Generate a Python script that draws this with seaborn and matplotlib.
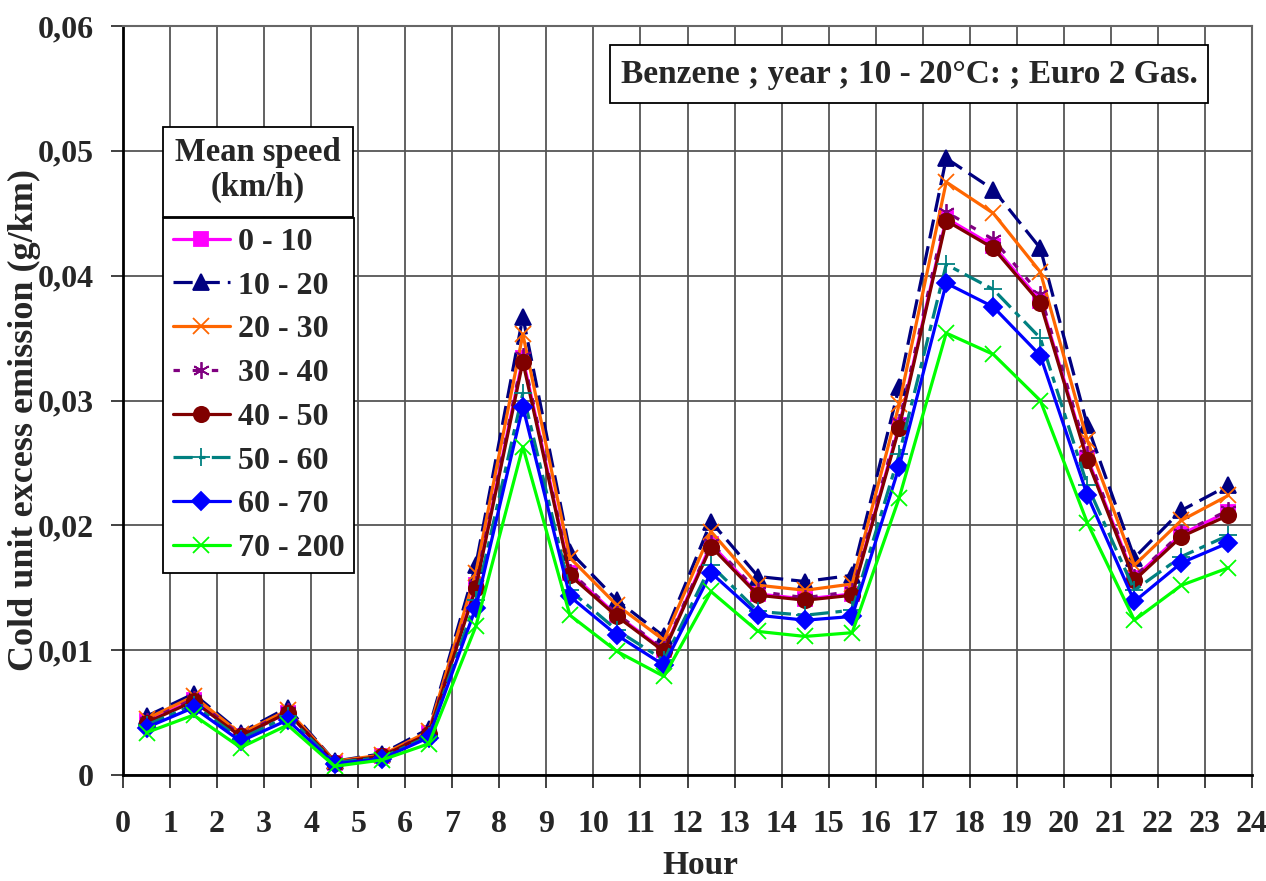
import numpy as np
import pandas as pd
import matplotlib
matplotlib.use("Agg")
import matplotlib.pyplot as plt
import seaborn as sns
from matplotlib.ticker import FuncFormatter, MultipleLocator
from matplotlib.patches import Rectangle

hours = [h + 0.5 for h in range(24)]

s0_10 = [0.0043, 0.0060, 0.0031, 0.0050, 0.0010, 0.0015, 0.0034, 0.0152, 0.0334, 0.0162, 0.0128, 0.0100,
         0.0185, 0.0145, 0.0141, 0.0145, 0.0280, 0.0446, 0.0424, 0.0380, 0.0254, 0.0158, 0.0193, 0.0211]
s10_20 = [0.0047, 0.0065, 0.0034, 0.0054, 0.0011, 0.0017, 0.0037, 0.0168, 0.0367, 0.0179, 0.0140, 0.0111,
          0.0203, 0.0159, 0.0155, 0.0160, 0.0311, 0.0494, 0.0469, 0.0422, 0.0280, 0.0174, 0.0212, 0.0232]
s20_30 = [0.0045, 0.0063, 0.0033, 0.0052, 0.0011, 0.0016, 0.0035, 0.0162, 0.0353, 0.0174, 0.0136, 0.0108,
          0.0195, 0.0152, 0.0148, 0.0153, 0.0297, 0.0475, 0.0450, 0.0403, 0.0268, 0.0168, 0.0204, 0.0224]
s30_40 = [0.0043, 0.0061, 0.0032, 0.0051, 0.0010, 0.0015, 0.0034, 0.0153, 0.0336, 0.0163, 0.0129, 0.0101,
          0.0186, 0.0147, 0.0142, 0.0147, 0.0283, 0.0451, 0.0429, 0.0385, 0.0257, 0.0159, 0.0194, 0.0212]
s40_50 = [0.0042, 0.0059, 0.0031, 0.0050, 0.0010, 0.0015, 0.0033, 0.0150, 0.0331, 0.0160, 0.0127, 0.0099,
          0.0183, 0.0144, 0.0140, 0.0144, 0.0278, 0.0444, 0.0422, 0.0378, 0.0252, 0.0156, 0.0191, 0.0208]
s50_60 = [0.0040, 0.0056, 0.0029, 0.0047, 0.0010, 0.0014, 0.0031, 0.0140, 0.0306, 0.0148, 0.0116, 0.0092,
          0.0168, 0.0131, 0.0128, 0.0132, 0.0257, 0.0409, 0.0389, 0.0350, 0.0232, 0.0148, 0.0175, 0.0192]
s60_70 = [0.0038, 0.0054, 0.0027, 0.0044, 0.0009, 0.0013, 0.0030, 0.0134, 0.0295, 0.0143, 0.0112, 0.0088,
          0.0162, 0.0128, 0.0124, 0.0127, 0.0247, 0.0394, 0.0375, 0.0336, 0.0224, 0.0139, 0.0170, 0.0186]
s70_200 = [0.0034, 0.0048, 0.0022, 0.0040, 0.0007, 0.0012, 0.0025, 0.0119, 0.0263, 0.0128, 0.0099, 0.0079,
           0.0147, 0.0115, 0.0111, 0.0114, 0.0222, 0.0354, 0.0337, 0.0300, 0.0202, 0.0124, 0.0152, 0.0166]

labels = ["0 - 10", "10 - 20", "20 - 30", "30 - 40", "40 - 50", "50 - 60", "60 - 70", "70 - 200"]
series = [s0_10, s10_20, s20_30, s30_40, s40_50, s50_60, s60_70, s70_200]

styles = [
    dict(color="#FF00FF", marker="s", ms=10, ls="-", mfc="#FF00FF", mec="#FF00FF"),
    dict(color="#000080", marker="^", ms=12, ls=(0, (6, 2.5)), mfc="#000080", mec="#000080"),
    dict(color="#FF6600", marker="x", ms=12, ls="-", mfc="none", mec="#FF6600"),
    dict(color="#800080", marker=(6, 2, 0), ms=12, ls=(0, (2, 4)), mfc="none", mec="#800080"),
    dict(color="#800000", marker="o", ms=11, ls="-", mfc="#800000", mec="#800000"),
    dict(color="#008080", marker="+", ms=13, ls=(0, (6, 2, 2, 2)), mfc="none", mec="#008080"),
    dict(color="#0000FF", marker="D", ms=9, ls="-", mfc="#0000FF", mec="#0000FF"),
    dict(color="#00FF00", marker="x", ms=12, ls="-", mfc="none", mec="#00FF00"),
]

sns.set_theme(style="white")
plt.rcParams["font.family"] = ["Liberation Serif", "DejaVu Serif"]
plt.rcParams["font.weight"] = "bold"

W, H = 1266, 881
fig = plt.figure(figsize=(W / 100, H / 100), dpi=100)
ax = fig.add_axes([123 / W, 1 - 775 / H, (1252 - 123) / W, (775 - 26) / H])

for lab, vals, st in zip(labels, series, styles):
    df = pd.DataFrame({"Hour": hours, "val": vals})
    sns.lineplot(data=df, x="Hour", y="val", ax=ax, label=lab,
                 color=st["color"], marker=st["marker"], markersize=st["ms"],
                 linestyle=st["ls"], linewidth=2.3,
                 markerfacecolor=st["mfc"], markeredgecolor=st["mec"],
                 markeredgewidth=1.3, legend=False)

ax.set_xlim(0, 24)
ax.set_ylim(0, 0.06)
ax.xaxis.set_major_locator(MultipleLocator(1))
ax.yaxis.set_major_locator(MultipleLocator(0.01))
ax.yaxis.set_major_formatter(FuncFormatter(lambda v, p: "0" if abs(v) < 1e-9 else f"{v:.2f}".replace(".", ",")))
ax.grid(True, color="#555555", linewidth=1.3)
for sp in ax.spines.values():
    sp.set_color("#666666")
    sp.set_linewidth(1.5)
for side in ("bottom", "left"):
    ax.spines[side].set_color("black")
    ax.spines[side].set_linewidth(2)
ax.tick_params(axis="both", which="major", direction="out", length=9, width=1.3,
               color="#333333", labelsize=23)
ax.tick_params(axis="x", bottom=True, pad=16)
ax.tick_params(axis="y", left=True, pad=12)
for t in ax.get_xticklabels() + ax.get_yticklabels():
    t.set_fontweight("bold")

xl = ax.set_xlabel("Hour", fontsize=24, fontweight="bold")
xl.set_va("center")
ax.xaxis.set_label_coords((700 - 123) / 1129, (775 - 866) / 749)
yl = ax.set_ylabel("Cold unit excess emission (g/km)", fontsize=26, fontweight="bold")
yl.set_va("center")
ax.yaxis.set_label_coords((24 - 123) / 1129, (775 - 420) / 749)

handles, labs = ax.get_legend_handles_labels()
leg = fig.legend(handles, labs, loc="upper left", bbox_to_anchor=(163 / W, 1 - 218 / H),
                 frameon=True, fancybox=False, framealpha=1, edgecolor="black",
                 prop={"family": "Liberation Serif", "weight": "bold", "size": 23},
                 handlelength=1.8, handletextpad=0.25, labelspacing=0.45,
                 borderpad=0.3, borderaxespad=0)
leg.get_frame().set_linewidth(1.3)

# legend title box
fig.add_artist(Rectangle((163 / W, 1 - 217 / H), (353 - 163) / W, (217 - 127) / H,
                         transform=fig.transFigure, facecolor="white", edgecolor="black",
                         linewidth=1.3, zorder=5))
fig.text(258 / W, 1 - 170 / H, "Mean speed\n(km/h)", ha="center", va="center", fontsize=23.5,
         fontweight="bold", linespacing=1.15, zorder=6)

# chart title box
fig.add_artist(Rectangle((610 / W, 1 - 103 / H), (1208 - 610) / W, (103 - 45) / H,
                         transform=fig.transFigure, facecolor="white", edgecolor="black",
                         linewidth=1.3, zorder=5))
fig.text(909 / W, 1 - 75 / H, "Benzene ; year ; 10 - 20°C: ; Euro 2 Gas.", ha="center", va="center",
         fontsize=24, fontweight="bold", zorder=6)

fig.savefig("out.png", dpi=100)
